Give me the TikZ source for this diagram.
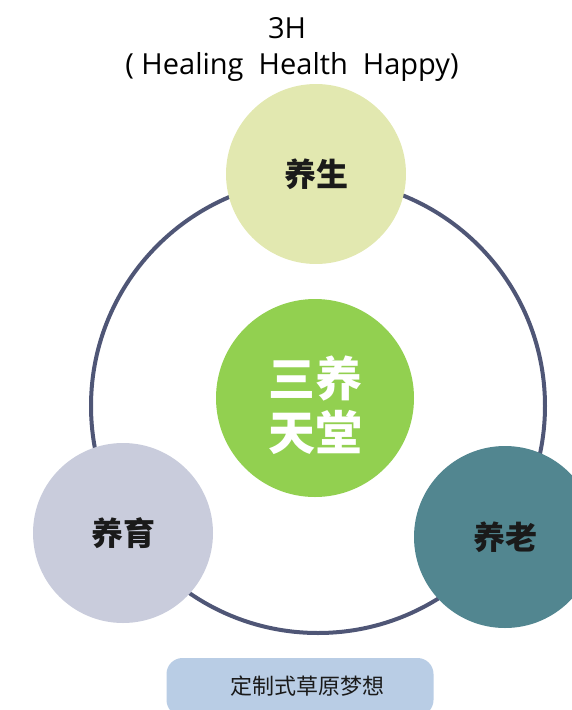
\documentclass[tikz,border=0pt]{standalone}
\usepackage{fontspec}
\setmainfont{Noto Sans CJK SC}
\newfontfamily\latinf{Open Sans}
\definecolor{ringc}{HTML}{4F5676}
\definecolor{topc}{HTML}{E2E8B0}
\definecolor{midc}{HTML}{92D050}
\definecolor{leftc}{HTML}{C9CCDC}
\definecolor{rightc}{HTML}{528690}
\definecolor{boxc}{HTML}{B9CDE5}
\definecolor{txtc}{HTML}{1A1A1A}
\begin{document}
\begin{tikzpicture}[x=1pt,y=-1pt,
  ball/.style={circle,minimum size=#1,inner sep=0pt,draw=none},
  lab/.style={font=\fontsize{32}{34}\selectfont\bfseries,text=txtc}]
\useasboundingbox (0,0) rectangle (572,710);
\clip (0,0) rectangle (572,710);
\node[draw=ringc,line width=4pt,circle,minimum size=454pt,inner sep=0pt] (ring) at (318,406) {};
\node[ball=180pt,fill=topc,lab] (top) at (316,174) {养生};
\node[ball=198pt,fill=midc] (mid) at (315,398) {};
\node[text=white,font=\fontsize{47}{54}\selectfont\bfseries,align=center] (midtxt) at (315,405) {三养\\天堂};
\node[ball=180pt,fill=leftc,lab] (left) at (123,533) {养育};
\node[ball=182pt,fill=rightc,lab] (right) at (505,537) {养老};
\node[font=\latinf\fontsize{29}{30}\selectfont,text=black] (t1) at (287,28) {3H};
\node[font=\latinf\fontsize{29}{30}\selectfont,text=black] (t2) at (292,67) {( Healing\ \ Health\ \ Happy)};
\node[fill=boxc,rounded corners=16pt,minimum width=267pt,minimum height=58pt,inner sep=0pt] (box) at (300,687) {};
\node[font=\fontsize{22}{24}\selectfont,text=txtc] (btxt) at (307,686) {定制式草原梦想};
\end{tikzpicture}
\end{document}
